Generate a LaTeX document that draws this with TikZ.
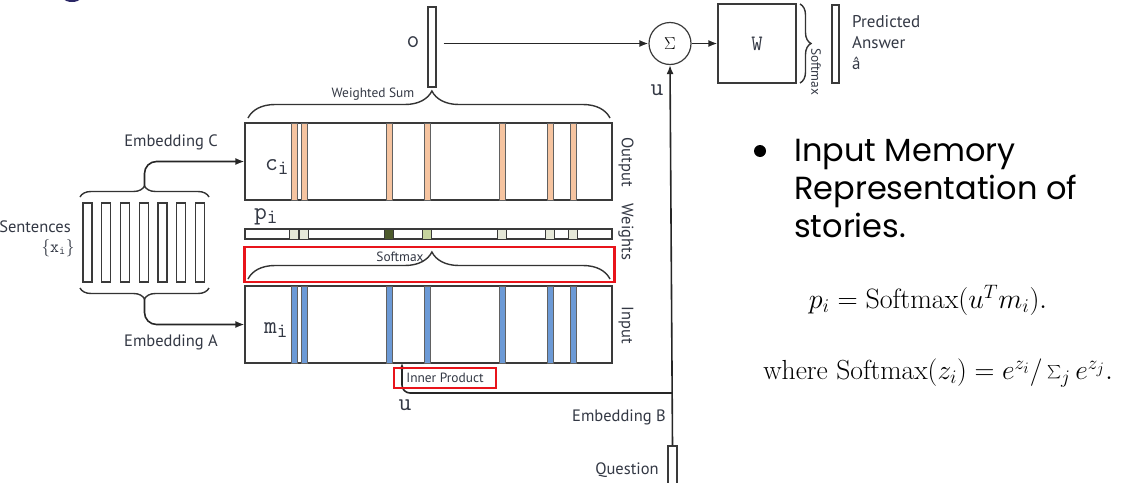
\documentclass[tikz,border=0pt]{standalone}
\usepackage{fontspec}
\usetikzlibrary{arrows.meta,decorations.pathreplacing,calc}
\newfontfamily\diagfont{PT Sans}
\newfontfamily\slidefont{Poppins}
\definecolor{linegray}{HTML}{3A3A3A}
\definecolor{labelgray}{HTML}{333844}
\definecolor{peach}{HTML}{F6C4A0}
\definecolor{stripeblue}{HTML}{6C9AD6}
\definecolor{wlight}{HTML}{E6E8D8}
\definecolor{wmid}{HTML}{C6D49E}
\definecolor{wdark}{HTML}{4D5A2C}
\definecolor{hired}{HTML}{E8141B}
\definecolor{logoblue}{HTML}{2B2766}
\tikzset{
  vecbox/.style={draw=linegray, line width=1.2pt, fill=white, inner sep=0pt},
  stripe/.style={draw=linegray!80, line width=0.6pt, inner sep=0pt, minimum width=6},
  wsquare/.style={draw=linegray, line width=0.8pt, inner sep=0pt, minimum width=9, minimum height=10},
  conn/.style={draw=black!85, line width=1.6pt},
  tip/.style={-{Latex[length=9pt,width=7pt]}},
  bigbrace/.style={decorate, decoration={brace, amplitude=27pt, aspect=0.508}, draw=black!80, line width=1.4pt},
  smallbrace/.style={decorate, decoration={brace, amplitude=11pt}, draw=black!80, line width=1.4pt},
  lbl/.style={text=labelgray, font=\diagfont\fontsize{16.5}{19}\selectfont, inner sep=1pt},
  small lbl/.style={text=labelgray, font=\diagfont\fontsize{13.4}{15}\selectfont, inner sep=1pt},
  ttlbl/.style={text=labelgray, font=\fontsize{24.88}{26}\selectfont, inner sep=1pt},
  redbox/.style={draw=hired, line width=2.4pt, inner sep=0pt}
}
\begin{document}
\begin{tikzpicture}[x=1pt, y=-1pt]
  \useasboundingbox (0,0) rectangle (1138,482);
  % edge of the logo that is cut off at the top
  \fill[logoblue] (72,-10) ellipse (14 and 12);

  % Output, weights and input memories
  \node[vecbox, minimum width=367, minimum height=77] (cbox) at (428.5,161.5) {};
  \node[vecbox, minimum width=367, minimum height=10] (pbar) at (428.5,234) {};
  \node[vecbox, minimum width=367, minimum height=77] (mbox) at (428.5,324.5) {};
  \foreach \sx/\wc [count=\i] in {294/wlight, 304/wlight, 389/wdark, 427/wmid, 502/wlight, 550/wlight, 573/wlight} {
    \node[stripe, fill=peach, minimum height=77] (c\i) at (\sx,161.5) {};
    \node[wsquare, fill=\wc] (p\i) at (\sx,234) {};
    \node[stripe, fill=stripeblue, minimum height=77] (m\i) at (\sx,324.5) {};
  }
  \node[ttlbl] (clbl) at (277,167) {$\mathtt{c}_{\mathtt{i}}$};
  \node[ttlbl] (plbl) at (266,217) {$\mathtt{p}_{\mathtt{i}}$};
  \node[ttlbl] (mlbl) at (276,330) {$\mathtt{m}_{\mathtt{i}}$};
  \node[lbl, rotate=-90] (outlbl) at (626,162) {Output};
  \node[lbl, rotate=-90] (wlbl) at (626,232) {Weights};
  \node[lbl, rotate=-90] (inlbl) at (626,325) {Input};

  % Braces over the memories
  \draw[bigbrace] (248,118) -- (610,118);
  \node[small lbl] (wsum) at (373,94) {Weighted Sum};
  \draw[bigbrace] (248,279) -- (610,279);
  \node[small lbl] (smax) at (400,257) {Softmax};
  \node[redbox, minimum width=370, minimum height=35] (smbox) at (429.5,264.5) {};

  % Sentences and the two embeddings
  \foreach \k in {0,...,6}
    \node[vecbox, minimum width=9, minimum height=79] (s\k) at (87.5+18.75*\k,242.5) {};
  \node[lbl] (sent) at (35,227) {Sentences};
  \node[ttlbl, font=\fontsize{17.28}{19}\selectfont] (xlbl) at (58,248) {$\{\mathtt{x}_{\mathtt{i}}\}$};
  \draw[smallbrace] (80,197) -- (209,197);
  \draw[smallbrace] (209,288) -- (80,288);
  \coordinate (ctip) at (144.5,186);
  \coordinate (atip) at (144.5,299);
  \draw[conn, tip, rounded corners=12] (ctip) |- (cbox.west);
  \draw[conn, tip, rounded corners=12] (atip) |- (mbox.west);
  \node[lbl] (embc) at (171,142) {Embedding C};
  \node[lbl] (emba) at (171,342) {Embedding A};

  % Output vector, sum and answer
  \node[vecbox, minimum width=8, minimum height=80] (o) at (432,47) {};
  \node[ttlbl] (olbl) at (413,42) {$\mathtt{o}$};
  \node[circle, draw=linegray, line width=1.2pt, minimum size=42, inner sep=0pt, font=\fontsize{17.28}{20}\selectfont] (sig) at (670,43.5) {$\Sigma$};
  \node[vecbox, minimum width=78, minimum height=79, font=\fontsize{22}{24}\selectfont\ttfamily, text=labelgray] (W) at (757,43.5) {W};
  \draw[conn, tip, shorten <=7pt] (o.east |- sig.west) -- (sig.west);
  \draw[conn, tip] (sig.east) -- (W.west);
  \draw[smallbrace] (800,4) -- (800,83);
  \node[small lbl, rotate=-90, anchor=west] (wsmax) at (816,47) {Softmax};
  \node[vecbox, minimum width=7, minimum height=78] (ans) at (835.5,44) {};
  \node[lbl, anchor=west, align=left, font=\diagfont\fontsize{17}{21}\selectfont] (pred) at (851,43) {Predicted\\Answer\\â};

  % Question and u
  \node[vecbox, minimum width=9, minimum height=60] (q) at (672.5,476) {};
  \draw[conn, tip] (q.north) -- (sig.south);
  \node[ttlbl] (ulbl) at (657,90) {$\mathtt{u}$};
  \coordinate (ujoin) at (672.5,393);
  \coordinate (mhit) at (402,363);
  \draw[conn, -{Latex[length=6pt,width=5pt]}, rounded corners=8] (ujoin) -| (mhit);
  \node[ttlbl] (ulbl2) at (405,405) {$\mathtt{u}$};
  \node[redbox, minimum width=102, minimum height=20, small lbl, text=labelgray] (ipbox) at (445,378) {Inner Product};
  \node[lbl] (embb) at (619,417) {Embedding B};
  \node[lbl] (qlbl) at (627,470) {Question};

  % Slide text
  \node[circle, fill=black, minimum size=12, inner sep=0pt] (dot) at (760,151) {};
  \node[anchor=west, align=left, font=\slidefont\fontsize{32}{38}\selectfont, inner sep=0pt] (bullet) at (794,188) {Input Memory\\Representation of\\stories.};
  \node[scale=1.35, font=\fontsize{20.74}{24}\selectfont] (eq1) at (928,300) {$p_i = \mathrm{Softmax}(u^T m_i).$};
  \node[scale=1.33, font=\fontsize{20.74}{24}\selectfont] (eq2) at (938,373) {where $\mathrm{Softmax}(z_i) = e^{z_i}/\sum_j e^{z_j}.$};
\end{tikzpicture}
\end{document}
